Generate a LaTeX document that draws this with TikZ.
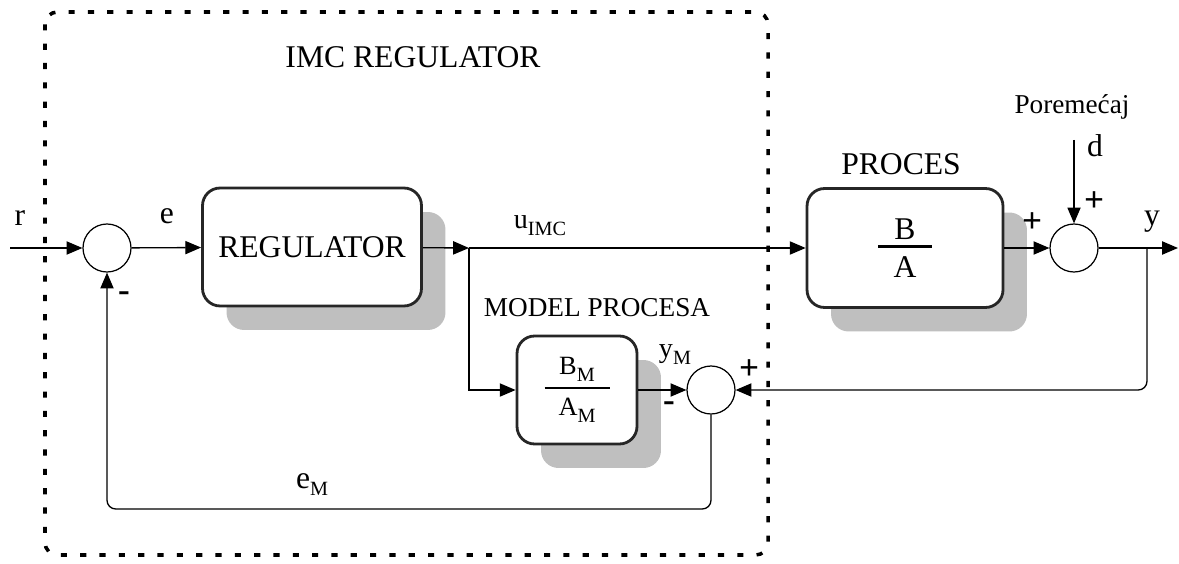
\documentclass[tikz,border=0pt]{standalone}
\usepackage{fontspec}
\setmainfont{Liberation Serif}
\usetikzlibrary{arrows.meta,shadows}

\newcommand{\lowsub}[1]{\raisebox{-4pt}{\fontsize{11.5}{12}\selectfont #1}}
\newcommand{\frc}[4]{\shortstack{#3\\\rule{#1}{#2}\\[2pt]#4}}

\begin{document}
\begin{tikzpicture}[
  x=0.02cm, y=-0.02cm,
  font=\fontsize{18}{21}\selectfont,
  blk/.style={draw=black!85, line width=1.6pt, rounded corners=10pt, fill=white,
              align=center, inner sep=0pt,
              drop shadow={shadow xshift=0.48cm, shadow yshift=-0.48cm,
                           opacity=1, fill=black!25}},
  sumpt/.style={draw, circle, line width=0.7pt, minimum size=0.96cm, inner sep=0pt, fill=white},
  arr/.style={-{Triangle[length=9pt,width=7.5pt]}, line width=0.75pt},
  lbl/.style={inner sep=0pt},
  sgn/.style={inner sep=0pt, font=\fontsize{20}{20}\selectfont\bfseries},
  small/.style={inner sep=0pt, font=\fontsize{15.5}{17}\selectfont},
  imc/.style={line width=2pt, dash pattern=on 3.5pt off 7.5pt, rounded corners=7pt},
]

  \useasboundingbox (0,0) rectangle (1179,564);

  % --- IMC regulator frame ---
  \draw[imc] (45,12) rectangle (768,555);
  \node[lbl] (imcttl) at (413,57) {IMC REGULATOR};

  % --- Blocks ---
  \node[sumpt] (s1) at (107,248) {};
  \node[blk, minimum width=4.38cm, minimum height=2.36cm] (reg) at (312,247) {REGULATOR};
  \node[blk, minimum width=2.4cm, minimum height=2.16cm] (model) at (577,390)
    {\fontsize{15}{17}\selectfont\frc{1.3cm}{1.1pt}{B\lowsub{M}}{A\lowsub{M}}};
  \node[sumpt] (s2) at (711,390) {};
  \node[blk, minimum width=3.92cm, minimum height=2.38cm] (proc) at (905,248)
    {\frc{1.08cm}{1.6pt}{B}{A}};
  \node[sumpt] (s3) at (1074,248) {};

  % --- Free ends ---
  \coordinate (rin) at (10,248);
  \coordinate (junc) at (469,248);
  \coordinate (br) at (1147,248);
  \coordinate (yout) at (1178,248);
  \coordinate (dtop) at (1074,140);
  \coordinate (fb) at (107,509);

  % --- Signals ---
  \draw[arr] (rin) -- (s1.west);
  \draw[arr] (s1) -- (reg);
  \draw[arr] (reg) -- (junc);
  \draw[arr] (junc) -- (proc);
  \draw[arr] (junc) |- (model.west);
  \draw[arr] (model) -- (s2);
  \draw[arr] (proc) -- (s3);
  \draw[arr] (dtop) -- (s3);
  \draw[arr] (s3) -- (yout);
  \draw[arr, rounded corners=5pt] (br) |- (s2.east);
  \draw[arr, rounded corners=5pt] (s2.south) |- (fb) -- (s1.south);

  % --- Labels ---
  \node[lbl] (rlbl) at (20,218) {r};
  \node[lbl] (elbl) at (167,216) {e};
  \node[sgn] (m1) at (124,297) {-};
  \node[lbl] (ulbl) at (540,226) {\fontsize{16}{18}\selectfont u\lowsub{IMC}};
  \node[small] (mdlttl) at (597,308) {MODEL PROCESA};
  \node[lbl] (yMlbl) at (675,355) {\fontsize{16}{18}\selectfont y\lowsub{M}};
  \node[sgn] (m2) at (669,407) {-};
  \node[sgn] (p1) at (749,370) {+};
  \node[lbl] (eMlbl) at (312,485) {e\lowsub{M}};
  \node[lbl] (procttl) at (901,164) {PROCES};
  \node[sgn] (p2) at (1032,223) {+};
  \node[sgn] (p3) at (1094,202) {+};
  \node[small] (dttl) at (1072,107) {Poremećaj};
  \node[lbl] (dlbl) at (1095,146) {d};
  \node[lbl] (ylbl) at (1152,222) {y};

\end{tikzpicture}
\end{document}
